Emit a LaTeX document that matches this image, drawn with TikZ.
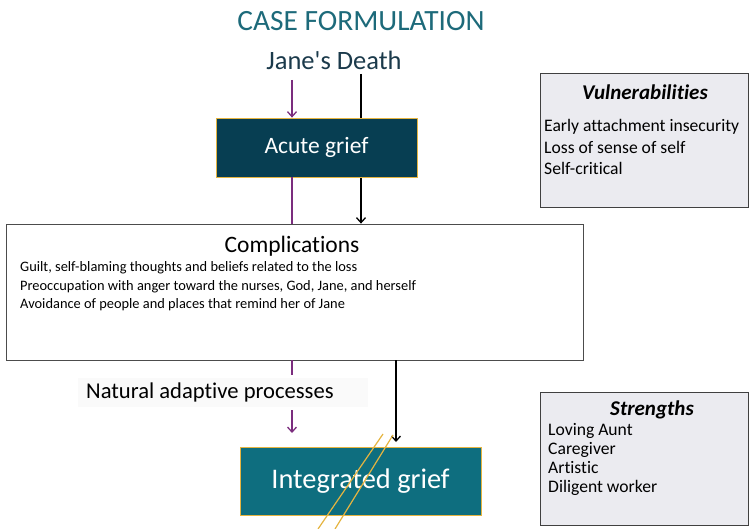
\documentclass[tikz,border=0pt]{standalone}
\usepackage{fontspec}
\setmainfont{Carlito}[Ligatures={NoCommon}]
\newfontfamily\plainfont{Carlito}[Ligatures={NoCommon}]
\usetikzlibrary{backgrounds,arrows.meta}
\definecolor{titleteal}{HTML}{1D6A7A}
\definecolor{deathcol}{HTML}{1B3A4B}
\definecolor{acutefill}{HTML}{073E52}
\definecolor{integfill}{HTML}{0E6E7F}
\definecolor{purp}{HTML}{7B2D7E}
\definecolor{gold}{HTML}{E5B440}
\definecolor{sidefill}{HTML}{EBEBF0}
\definecolor{labelfill}{HTML}{FAFAFA}
\tikzset{
  darkbox/.style={draw=gold, line width=0.8pt, text=white, inner sep=0pt},
  sidebox/.style={draw=black!75, fill=sidefill, line width=0.8pt, inner sep=0pt},
  parrow/.style={draw=purp, line width=1.3pt, -{Straight Barb[length=5pt,width=9pt]}},
  pline/.style={draw=purp, line width=1.3pt},
  barrow/.style={draw=black, line width=1.3pt, -{Straight Barb[length=5pt,width=9pt]}},
  goldline/.style={draw=gold, line width=1.2pt},
  sideline/.style={font=\fontsize{17.6}{20}\selectfont, inner sep=0pt, anchor=west},
  compline/.style={font=\fontsize{14.4}{17}\selectfont, inner sep=0pt, anchor=west},
  sidetitle/.style={font=\fontsize{21}{24}\selectfont\bfseries\itshape, inner sep=0pt},
}
\begin{document}
\begin{tikzpicture}[x=1pt,y=-1pt]
\useasboundingbox (0,0) rectangle (754,529);
% title texts
\node[text=titleteal, font=\fontsize{29.4}{32}\selectfont, inner sep=0pt] (title) at (361,21) {CASE FORMULATION};
\node[text=deathcol, font=\plainfont\fontsize{26.5}{28}\selectfont, inner sep=0pt] (death) at (334,60) {Jane's Death};
% boxes
\node[darkbox, fill=acutefill, minimum width=201, minimum height=59, font=\fontsize{23.5}{26}\selectfont] (acute) at (316.5,147.5) {Acute grief};
\node[draw=black!70, fill=white, line width=0.8pt, minimum width=577, minimum height=136, inner sep=0pt] (comp) at (294.5,292) {};
\node[font=\fontsize{23.5}{26}\selectfont, inner sep=0pt] (comptitle) at (292,246) {Complications};
\node[compline] (c1) at (20,268) {Guilt, self-blaming thoughts and beliefs related to the loss};
\node[compline] (c2) at (20,286.5) {Preoccupation with anger toward the nurses, God, Jane, and herself};
\node[compline] (c3) at (20,305) {Avoidance of people and places that remind her of Jane};
\node[fill=labelfill, minimum width=290, minimum height=29, inner sep=0pt] (nat) at (223,392.5) {};
\node[font=\fontsize{22.6}{25}\selectfont, inner sep=0pt, anchor=west] (nattext) at (86,392) {Natural adaptive processes};
\node[darkbox, fill=integfill, minimum width=241, minimum height=68, font=\fontsize{28.4}{30}\selectfont] (integ) at (360.5,481) {Integrated grief};
% side boxes
\node[sidebox, minimum width=208, minimum height=134] (vuln) at (644,140) {};
\node[sidetitle] (vulnt) at (645,92) {Vulnerabilities};
\node[sideline] (v1) at (544,127) {Early attachment insecurity};
\node[sideline] (v2) at (544,147) {Loss of sense of self};
\node[sideline] (v3) at (544,168) {Self-critical};
\node[sidebox, minimum width=208, minimum height=133] (str) at (644,458.5) {};
\node[sidetitle] (strt) at (652,410) {Strengths};
\node[sideline] (s1) at (548,431) {Loving Aunt};
\node[sideline] (s2) at (548,449.5) {Caregiver};
\node[sideline] (s3) at (548,468) {Artistic};
\node[sideline] (s4) at (548,488) {Diligent worker};
% connectors
\coordinate (p1) at (292,80);
\coordinate (b1) at (361,74);
\coordinate (p3) at (292,375);
\coordinate (p4) at (292,410);
\coordinate (p5) at (292,433);
\coordinate (b3) at (396,442);
\begin{scope}[on background layer]
\draw[barrow] (b1) -- (b1 |- comp.north);
\end{scope}
\draw[parrow] (p1) -- (p1 |- acute.north);
\draw[pline] (p1 |- acute.south) -- (p1 |- comp.north);
\draw[pline] (p1 |- comp.south) -- (p3);
\draw[parrow] (p4) -- (p5);
\draw[barrow] (b3 |- comp.south) -- (b3);
% gold strikes
\coordinate (g1a) at (383,434);
\coordinate (g1b) at (318,529);
\coordinate (g2a) at (393,435);
\coordinate (g2b) at (335,529);
\draw[goldline] (g1a) -- (g1b);
\draw[goldline] (g2a) -- (g2b);
\end{tikzpicture}
\end{document}
